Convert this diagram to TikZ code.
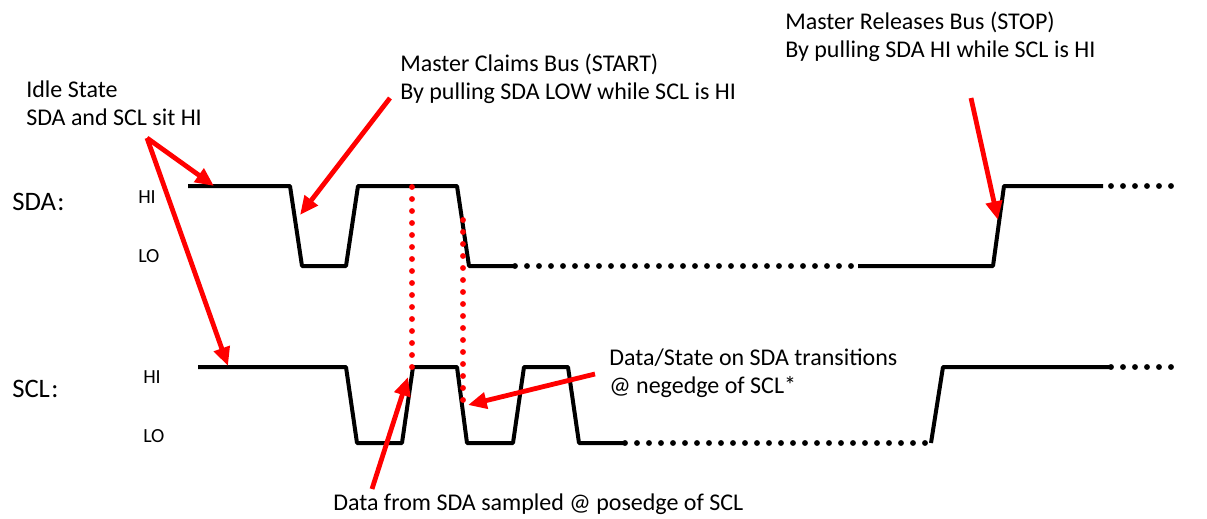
\documentclass[tikz,border=0pt]{standalone}
\usepackage{fontspec}
\setmainfont{Carlito}
\usetikzlibrary{arrows.meta, positioning}

\begin{document}
\begin{tikzpicture}[x=0.75pt, y=-0.75pt, line join=round]
        \tikzset{
          wave/.style={line width=3pt},
          gap/.style={line width=4.4pt, line cap=round, dash pattern=on 0pt off 9pt},
          probe/.style={red, line width=4.4pt, line cap=round, dash pattern=on 0pt off 9pt},
          callout/.style={red, line width=3.6pt, -{Triangle[length=14pt,width=12pt]}},
          note/.style={font=\fontsize{18}{21}\selectfont, align=left, inner sep=0pt, anchor=north west},
          level/.style={font=\fontsize{15}{18}\selectfont, inner sep=0pt, anchor=base west},
          signame/.style={font=\fontsize{20}{24}\selectfont, inner sep=0pt, anchor=base west}
        }
        \useasboundingbox (0,0) rectangle (1207,518);

        % signal names and levels
        \node[signame] (sda) at (12,210) {SDA\kern1pt:};
        \node[signame] (scl) at (12,397) {SCL\kern1pt:};
        \node[level] (sda_hi) at (138,203) {HI};
        \node[level] (sda_lo) at (138,262) {LO};
        \node[level] (scl_hi) at (143,383) {HI};
        \node[level] (scl_lo) at (143,442) {LO};

        % notes
        \node[note] (idle) at (26,81) {Idle State\\SDA and SCL sit HI};
        \node[note] (claim) at (400,54) {Master Claims Bus (START)\\By pulling SDA LOW while SCL is HI};
        \node[note] (release) at (785,12) {Master Releases Bus (STOP)\\By pulling SDA HI while SCL is HI};
        \node[note] (change) at (609,349) {Data/State on SDA transitions\\@ negedge of SCL*};
        \node[note] (sample) at (333,494) {Data from SDA sampled @ posedge of SCL};

        % SDA
        \draw[wave] (188,186) -- (290,186) -- (302,266) -- (346,266) -- (358,186)
                    -- (457,186) -- (469,266) -- (515,266);
        \draw[gap] (515,266) -- (852,266);
        \draw[wave] (858,266) -- (993,266) -- (1004,186) -- (1103,186);
        \draw[gap] (1111,186) -- (1171,186);

        % SCL
        \draw[wave] (198,367) -- (346,367) -- (357,443) -- (402,443) -- (413,367)
                    -- (457,367) -- (467,443) -- (513,443) -- (524,367) -- (568,367)
                    -- (579,443) -- (625,443);
        \draw[gap] (625,443) -- (925,443);
        \draw[wave] (931,443) -- (943,367) -- (1111,367);
        \draw[gap] (1111,367) -- (1171,367);

        % sample / change instants
        \draw[probe] (412,187) -- (412,367);
        \draw[probe] (463,220) -- (463,400);

        % arrow ends
        \coordinate (idle_tail) at (147,138);
        \coordinate (sda_idle) at (214,186);
        \coordinate (scl_idle) at (228,366);
        \coordinate (start_tail) at (390,98);
        \coordinate (start_tip) at (300,215);
        \coordinate (stop_tail) at (971,98);
        \coordinate (stop_tip) at (998,220);
        \coordinate (pos_tail) at (372,489);
        \coordinate (pos_tip) at (408,377);
        \coordinate (neg_tail) at (595,374);
        \coordinate (neg_tip) at (468,405);

        \path[callout]
        (idle_tail) edge (sda_idle)
        (idle_tail) edge (scl_idle)
        (start_tail) edge (start_tip)
        (stop_tail) edge (stop_tip)
        (pos_tail) edge (pos_tip)
        (neg_tail) edge (neg_tip);
\end{tikzpicture}
\end{document}
